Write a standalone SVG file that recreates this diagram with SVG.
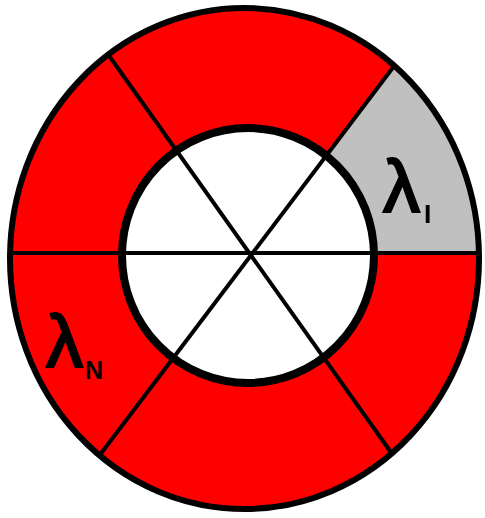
<svg xmlns="http://www.w3.org/2000/svg" width="485" height="518" viewBox="0 0 485 518">
<style>
.ring{stroke:#000;fill:none}
.div{stroke:#000;stroke-width:4}
.lam{font-family:"Liberation Sans",Arial,sans-serif;fill:#000;stroke:#000;stroke-width:2.2}
.sub{font-family:"Liberation Sans",Arial,sans-serif;font-weight:bold;fill:#000}
</style>
<defs>
<clipPath id="outerClip"><ellipse cx="244.5" cy="258.5" rx="234.5" ry="250.5"/></clipPath>
</defs>
<rect width="485" height="518" fill="#fff"/>
<g id="outer-ring">
<ellipse cx="244.5" cy="258.5" rx="234.5" ry="250.5" fill="#ff0000"/>
<polygon id="segment-i" points="250,253 402,55 490,55 490,253" fill="#c0c0c0" clip-path="url(#outerClip)"/>
</g>
<g id="inner-disc">
<ellipse cx="248" cy="255.5" rx="126" ry="127.5" fill="#fff"/>
</g>
<g id="connectors" clip-path="url(#outerClip)">
<line class="div" x1="0" y1="253" x2="485" y2="253"/>
<line class="div" x1="95" y1="36" x2="405" y2="472" stroke-width="3.5"/>
<line class="div" x1="410" y1="45" x2="90" y2="468" stroke-width="4.5"/>
</g>
<g id="outlines">
<ellipse class="ring" cx="244.5" cy="258.5" rx="234.5" ry="250.5" stroke-width="6"/>
<ellipse class="ring" cx="248" cy="255.5" rx="126" ry="127.5" stroke-width="8"/>
</g>
<g id="label-i">
<text class="lam" x="383" y="212" font-size="74">λ</text>
<text class="sub" x="424" y="223" font-size="26">I</text>
</g>
<g id="label-n">
<text class="lam" x="46" y="367" font-size="74">λ</text>
<text class="sub" x="85" y="379" font-size="25">N</text>
</g>
</svg>
